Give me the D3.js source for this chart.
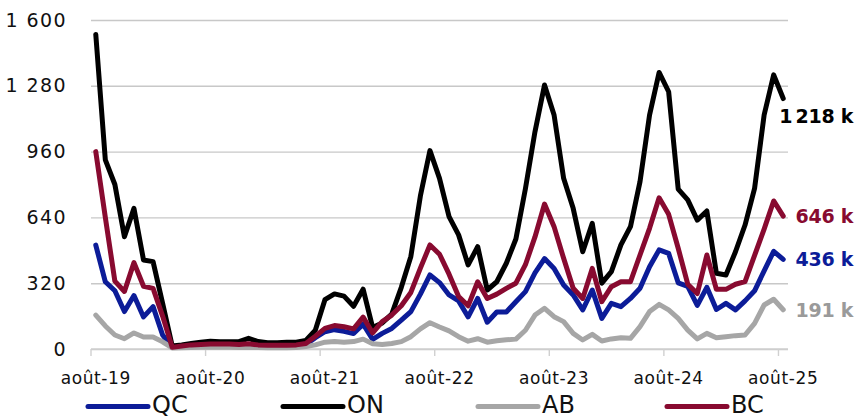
<!DOCTYPE html>
<html>
<head>
<meta charset="utf-8">
<script src="https://cdn.jsdelivr.net/npm/d3@7"></script>
<style>
  body { margin: 0; background: #fff; }
  text { font-family: "DejaVu Sans", sans-serif; }
</style>
</head>
<body>
<div id="chart"></div>
<script>
// Monthly values (thousands), août-19 to août-25
const qc = [505,327,283,182,260,156,206,68,8,12, 15,16,18,18,18,17,20,16,14,14,
  14,16,22,55,84,94,86,75,121,47, 76,100,140,182,267,360,323,263,234,156,
  246,130,180,180,230,279,370,440,392,311, 263,190,287,149,222,206,246,295,400,482,
  465,322,305,212,300,192,222,190,234,283, 380,475,436];
const on = [1530,920,800,546,684,433,425,222,15,20, 27,33,38,35,35,36,52,36,31,31,
  33,33,42,92,240,268,257,208,291,104, 127,170,300,450,745,965,830,644,555,409,
  498,287,327,417,535,780,1057,1284,1138,830, 684,473,611,320,376,506,595,814,1138,1345,
  1251,778,725,627,671,368,360,473,603,781, 1138,1333,1218];
const ab = [165,112,68,50,78,58,58,35,5,6, 7,8,8,8,8,7,8,7,6,6,
  6,7,12,20,33,36,33,36,48,25, 22,27,36,60,98,128,107,88,60,38,
  50,33,40,45,48,91,165,198,157,133, 76,44,71,39,49,55,52,109,182,217,
  190,149,92,49,76,55,60,65,68,125, 214,242,191];
const bc = [960,640,330,280,420,305,295,160,8,15, 20,22,24,24,24,22,25,20,18,18,
  18,20,27,62,100,114,108,98,155,78, 133,165,210,275,393,506,461,364,255,210,
  327,246,267,295,320,410,545,705,595,441, 295,246,392,230,303,327,327,457,587,735,
  655,490,315,270,457,290,290,315,328,455, 583,720,646];

const seriesNames = ["QC", "ON", "AB", "BC"];
const seriesColors = ["#0c1c98", "#000000", "#a6a6a6", "#880a30"];
const labelColors = ["#0c1c98", "#000000", "#9a9a9a", "#880a30"];
const xTickLabels = ["août-19", "août-20", "août-21", "août-22", "août-23", "août-24", "août-25"];
const yTicks = [0, 320, 640, 960, 1280, 1600];

const months = d3.range(qc.length);
const series = [qc, on, ab, bc];

// Dimensions
const width = 856;
const height = 419;
const plot = {left: 91, right: 788, top: 20, bottom: 349};

const svg = d3.select("#chart")
  .append("svg")
    .attr("width", width)
    .attr("height", height);

const locale = sep => d3.formatLocale({decimal: ",", thousands: sep, grouping: [3], currency: ["", ""]}).format(",d");
const fmtAxis = locale("\u00a0");
const fmtLabel = locale("\u202f");

// Scales
const x = d3.scaleBand().domain(months).range([plot.left, plot.right]).padding(0);
const y = d3.scaleLinear().domain([0, 1600]).range([plot.bottom, plot.top]);
const xc = i => x(i) + x.bandwidth() / 2;

// y-axis with gridlines
const yAxis = d3.axisLeft(y)
  .tickValues(yTicks)
  .tickSize(-(plot.right - plot.left))
  .tickPadding(24)
  .tickFormat(fmtAxis);

const gy = svg.append("g")
  .attr("transform", `translate(${plot.left},0)`)
  .call(yAxis);
gy.select(".domain").remove();
gy.selectAll(".tick line").attr("stroke", "#c8c8c8").attr("stroke-width", 1.4);
gy.selectAll(".tick text")
  .attr("fill", "#111")
  .style("font-size", "19px")
  .style("letter-spacing", "1.4px");

// x-axis: ticks at the start of each August band, labels centred on the band
const tickIdx = xTickLabels.map((d, k) => k * 12);
svg.append("line")
  .attr("x1", plot.left).attr("x2", plot.right)
  .attr("y1", y(0)).attr("y2", y(0))
  .attr("stroke", "#d0d0d0").attr("stroke-width", 1.6);
svg.selectAll(".xtick")
  .data(tickIdx)
  .join("line")
    .attr("class", "xtick")
    .attr("x1", d => x(d)).attr("x2", d => x(d))
    .attr("y1", y(0)).attr("y2", y(0) + 7)
    .attr("stroke", "#d0d0d0").attr("stroke-width", 1.4);
svg.selectAll(".xlab")
  .data(tickIdx)
  .join("text")
    .attr("class", "xlab")
    .attr("x", d => xc(d))
    .attr("y", 384)
    .attr("text-anchor", "middle")
    .attr("fill", "#111")
    .style("font-size", "17px")
    .style("letter-spacing", "0.6px")
    .text((d, k) => xTickLabels[k]);

// Lines
const line = d3.line().x((d, i) => xc(i)).y(d => y(d));
svg.selectAll(".series")
  .data(series)
  .join("path")
    .attr("class", "series")
    .attr("d", line)
    .attr("fill", "none")
    .attr("stroke", (d, i) => seriesColors[i])
    .attr("stroke-width", 5)
    .attr("stroke-linejoin", "round")
    .attr("stroke-linecap", "round");

// End labels
const labelShift = [0, 18, 0, 0];
svg.selectAll(".endlab")
  .data(series)
  .join("text")
    .attr("class", "endlab")
    .attr("x", 853)
    .attr("y", (d, i) => y(d[d.length - 1]) + labelShift[i])
    .attr("dy", "0.36em")
    .attr("text-anchor", "end")
    .attr("fill", (d, i) => labelColors[i])
    .style("font-size", "19px")
    .style("font-weight", "bold")
    .style("letter-spacing", "-0.3px")
    .text(d => fmtLabel(d[d.length - 1]) + " k");

// Legend
const legendX = [88, 283, 478, 667];
const legend = svg.selectAll(".leg")
  .data(seriesNames)
  .join("g")
    .attr("class", "leg")
    .attr("transform", (d, i) => `translate(${legendX[i]},0)`);
legend.append("line")
  .attr("x1", 0).attr("x2", 60)
  .attr("y1", 406.5).attr("y2", 406.5)
  .attr("stroke", (d, i) => seriesColors[i])
  .attr("stroke-width", 5)
  .attr("stroke-linecap", "round");
legend.append("text")
  .attr("x", 64)
  .attr("y", 413)
  .attr("fill", "#111")
  .style("font-size", "24px")
  .text(d => d);
</script>
</body>
</html>
